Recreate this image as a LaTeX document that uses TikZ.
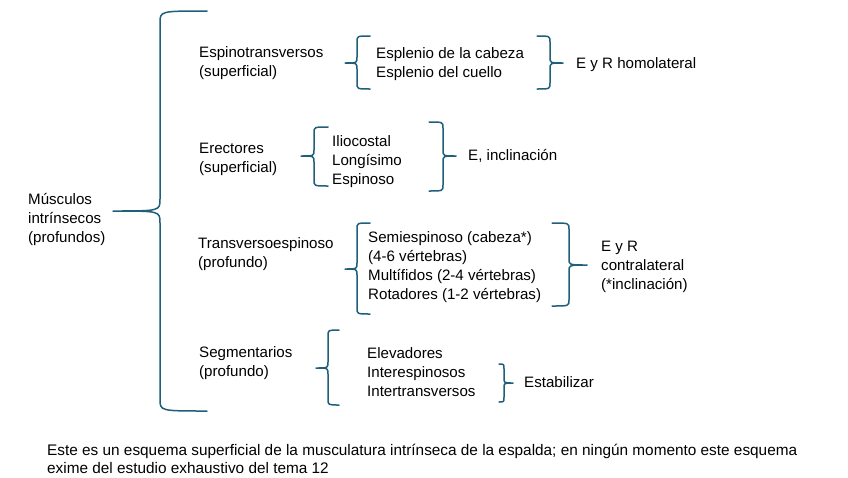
\documentclass[tikz,border=0pt]{standalone}
\usepackage{fontspec}
\setmainfont{Liberation Sans}
\definecolor{bracecol}{HTML}{1F5F7A}
\newcommand\mybrace[7]{% xend, xv, xtip, ytop, ymid, ybot, r
  \draw[brace] (#1,#4) .. controls (#2,#4) .. (#2,#4+#7) -- (#2,#5-#7)
    .. controls (#2,#5) .. (#3,#5) .. controls (#2,#5) .. (#2,#5+#7)
    -- (#2,#6-#7) .. controls (#2,#6) .. (#1,#6);}
\begin{document}
\begin{tikzpicture}[x=1pt,y=-1pt,
  brace/.style={draw=bracecol,line width=1.5pt,line cap=round,line join=round},
  txt/.style={anchor=west,inner sep=0pt,align=left,font=\fontsize{15.1}{19}\selectfont},
  note/.style={anchor=west,inner sep=0pt,align=left,font=\fontsize{15.35}{18}\selectfont}]
\useasboundingbox[fill=white] (0,0) rectangle (848,477);
\node[txt] (mus) at (28,219.5) {Músculos\\intrínsecos\\(profundos)};
\node[txt] (esp) at (199,63) {Espinotransversos\\(superficial)};
\node[txt] (espl) at (376,64) {Esplenio de la cabeza\\Esplenio del cuello};
\node[txt] (eyr1) at (576,64.5) {E y R homolateral};
\node[txt] (ere) at (199,159.5) {Erectores\\(superficial)};
\node[txt] (ilio) at (332,161.5) {Iliocostal\\Longísimo\\Espinoso};
\node[txt] (einc) at (468,155.5) {E, inclinación};
\node[txt] (tra) at (198,254.5) {Transversoespinoso\\(profundo)};
\node[txt] (semi) at (368,267.5) {Semiespinoso (cabeza*)\\(4-6 vértebras)\\Multífidos (2-4 vértebras)\\Rotadores (1-2 vértebras)};
\node[txt] (eyr2) at (601,267) {E y R\\contralateral\\(*inclinación)};
\node[txt] (seg) at (199,363) {Segmentarios\\(profundo)};
\node[txt] (elev) at (367,372) {Elevadores\\Interespinosos\\Intertransversos};
\node[txt] (est) at (524,382.5) {Estabilizar};
\node[note] (note) at (47,459) {Este es un esquema superficial de la musculatura intrínseca de la espalda; en ningún momento este esquema\\exime del estudio exhaustivo del tema 12};
% braces
\mybrace{207}{160}{113}{11}{211}{411}{12}
\mybrace{370}{357}{345}{36}{63}{89}{6}
\mybrace{537}{550}{563}{36}{63}{89}{6}
\mybrace{328}{314}{301}{127}{156}{186}{6}
\mybrace{429}{443}{456}{122}{156}{191}{6}
\mybrace{370}{357}{345}{223}{269}{314}{6}
\mybrace{552}{569}{587}{223}{265}{306}{6}
\mybrace{339}{328}{316}{330}{368}{405}{6}
\mybrace{499}{504}{513}{364}{383}{402}{5}
\end{tikzpicture}
\end{document}
